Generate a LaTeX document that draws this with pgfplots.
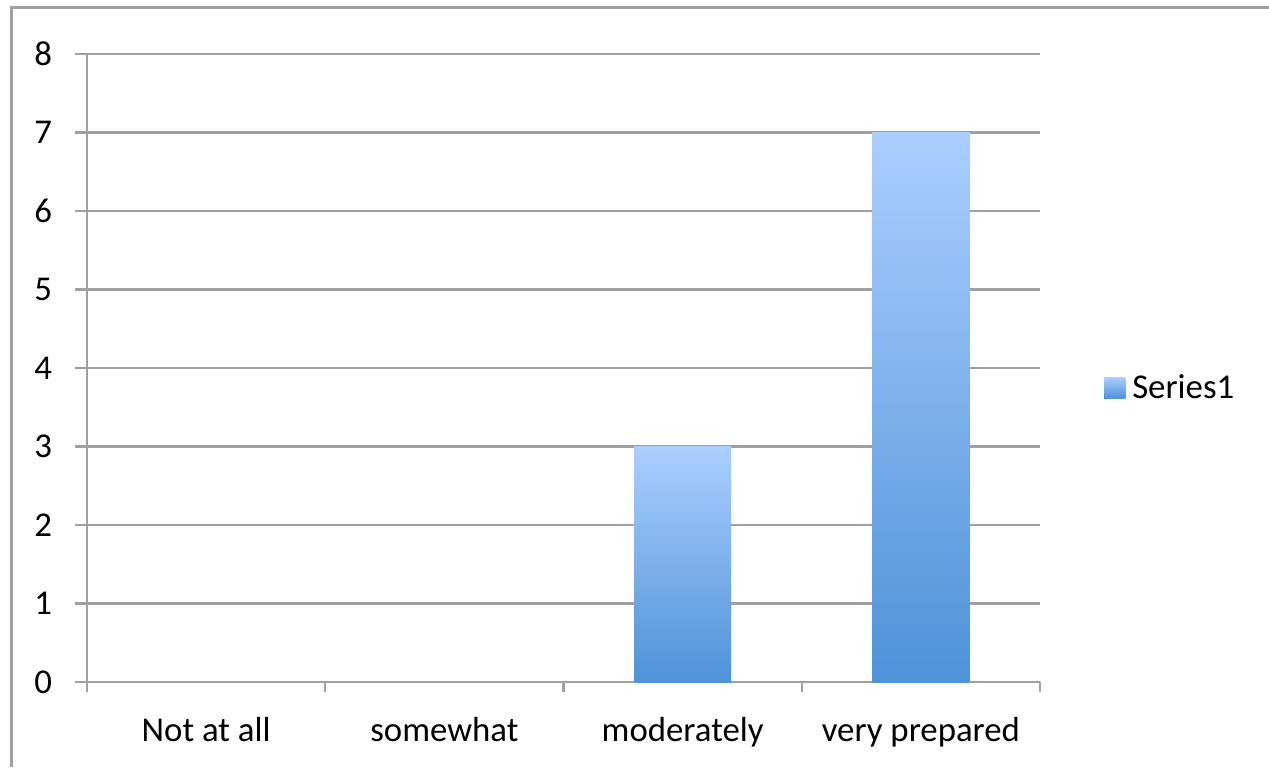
\documentclass[border=0pt]{standalone}
\usepackage{pgfplots}
\pgfplotsset{compat=1.18}
\usepackage{fontspec}
\setmainfont{Carlito}
\definecolor{gridgray}{RGB}{160,160,160}
\definecolor{bartop}{RGB}{171,206,254}
\definecolor{barbot}{RGB}{78,146,216}
\begin{document}
\begin{tikzpicture}
\draw[gridgray,line width=1.5pt] (5.5pt,0pt) -- (5.5pt,379.5pt) -- (634.5pt,379.5pt);
\begin{axis}[
  at={(43.5pt,42.5pt)}, anchor=south west,
  scale only axis, width=476.5pt, height=314pt,
  font=\fontsize{17.4pt}{20pt}\selectfont,
  /pgf/number format/assume math mode=true,
  xmin=-0.5, xmax=3.5, ymin=0, ymax=8,
  ytick={0,1,...,8},
  xtick={0,1,2,3},
  xticklabels={Not at all, somewhat, moderately, very prepared},
  minor xtick={-0.5,0.5,1.5,2.5,3.5},
  major x tick style={draw=none},
  minor x tick style={draw=gridgray, line width=1.1pt},
  y tick style={draw=gridgray, line width=1.1pt},
  tick align=outside,
  major tick length=6pt, minor tick length=5pt,
  axis lines*=left,
  axis line style={draw=gridgray, line width=1.1pt},
  ymajorgrids, grid style={draw=gridgray, line width=1.1pt},
  yticklabel style={xshift=-8pt},
  xticklabel style={yshift=-8pt},
  ybar, bar width=48.5pt, bar shift=0pt,
  legend style={at={(1.067,0.468)}, anchor=west, draw=none, fill=none,
    inner sep=0pt, font=\fontsize{17.4pt}{20pt}\selectfont,
    /tikz/every even column/.append style={column sep=0pt}},
  legend cell align=left,
  clip=false,
]
\addplot[draw=none, top color=bartop, bottom color=barbot,
  legend image code/.code={\fill[top color=bartop, bottom color=barbot] (0pt,-5.25pt) rectangle (10.5pt,5.25pt);}]
  coordinates {(2,3)};
\addlegendentry{\hspace{1.5pt}Series1}
\addplot[draw=none, top color=bartop, bottom color=barbot, forget plot]
  coordinates {(3,7)};
\end{axis}
\pgfresetboundingbox
\useasboundingbox (0pt,0pt) rectangle (634.5pt,383.5pt);
\end{tikzpicture}
\end{document}
